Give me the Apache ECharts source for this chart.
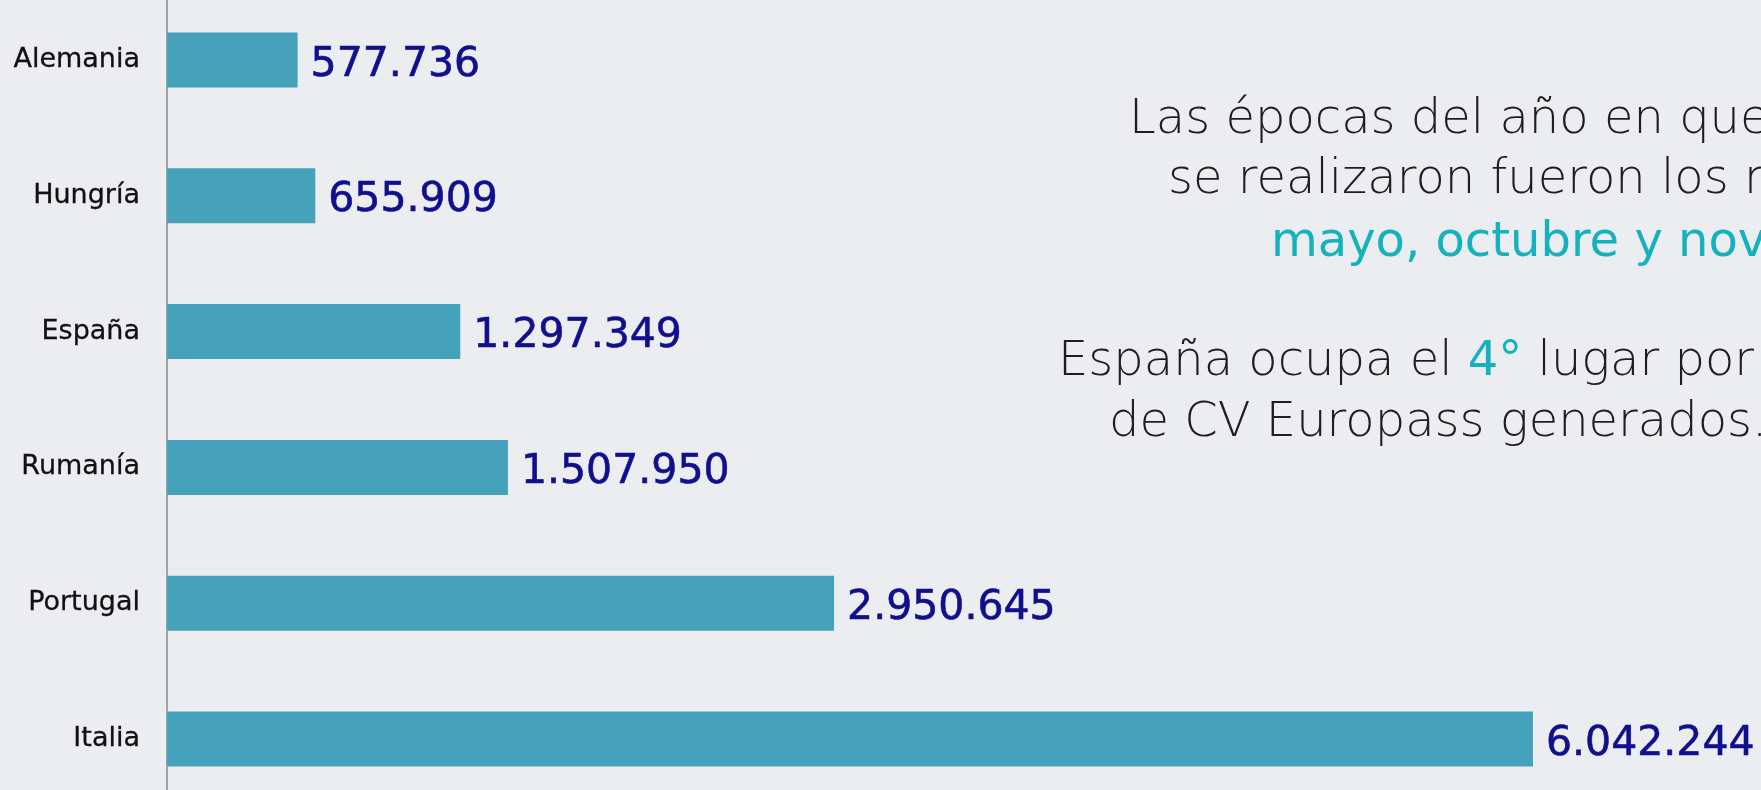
<!DOCTYPE html>
<html>
<head>
<meta charset="utf-8">
<script src="https://cdn.jsdelivr.net/npm/echarts@6/dist/echarts.min.js"></script>
<style>
html,body{margin:0;padding:0;background:#ecedf0;}
#c{width:1761px;height:790px;}
</style>
</head>
<body>
<div id="c"></div>
<script>
const categories = ['Alemania', 'Hungría', 'España', 'Rumanía', 'Portugal', 'Italia'];
const values = [577736, 655909, 1297349, 1507950, 2950645, 6042244];

const textLines = [
  'Las épocas del año en que más CV',
  'se realizaron fueron los meses de',
  '{t|mayo, octubre y noviembre.}',
  'España ocupa el {t|4°} lugar por número',
  'de CV Europass generados.'
];

function fmt(v) {
  return String(v).replace(/\B(?=(\d{3})+(?!\d))/g, '.');
}

const chart = echarts.init(document.getElementById('c'), null, {renderer: 'canvas'});
const TEAL = '#14b2bc';
const textFont = 'DejaVu Sans';
const textSize = 48;
const lineX = [1129, 1168, 1271, 1058, 1109];
const baselines = [137, 197.5, 260, 379, 440];

chart.setOption({
  backgroundColor: '#ecedf0',
  animation: false,
  grid: {left: 167, right: 0, top: -8, height: 815, containLabel: false, outerBoundsMode: 'none'},
  xAxis: {type: 'value', min: 0, max: 7051000, show: false, splitLine: {show: false}},
  yAxis: {
    type: 'category',
    data: categories,
    inverse: true,
    axisLine: {show: true, lineStyle: {color: '#8a8a8a', width: 1.5}},
    axisTick: {show: false},
    axisLabel: {
      margin: 27,
      color: '#111111',
      fontFamily: 'DejaVu Sans',
      fontSize: 27,
      textBorderColor: '#111111',
      textBorderWidth: 0.3
    }
  },
  series: [{
    type: 'bar',
    data: values,
    barWidth: 55,
    itemStyle: {color: '#46a2bb'},
    label: {
      show: true,
      position: 'right',
      distance: 13,
      offset: [0, 5],
      color: '#10108e',
      fontFamily: 'DejaVu Sans',
      fontSize: 41,
      textBorderColor: '#10108e',
      textBorderWidth: 0.6,
      formatter: p => fmt(p.value)
    }
  }],
  graphic: textLines.map((t, i) => ({
    type: 'text',
    left: lineX[i],
    top: baselines[i] - textSize * 0.846,
    style: {
      text: t,
      fill: '#1e1e1e',
      font: '200 ' + textSize + 'px "' + textFont + '"',
      rich: {t: {fill: TEAL, fontFamily: textFont, fontSize: textSize, fontWeight: 'normal'}}
    }
  }))
});
</script>
</body>
</html>
